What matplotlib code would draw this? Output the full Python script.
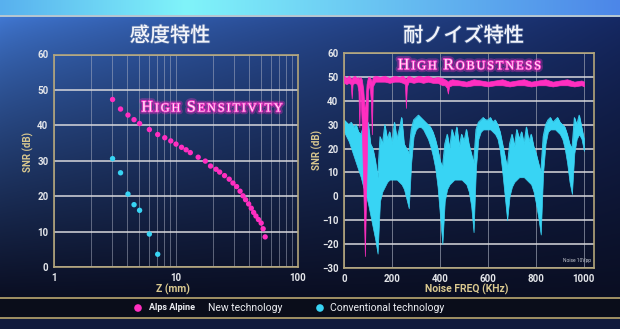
import numpy as np
import matplotlib
matplotlib.use("Agg")
import matplotlib.pyplot as plt
import matplotlib.patheffects as pe
from matplotlib.ticker import FixedLocator, NullFormatter

W, H = 620, 329

# left chart: SNR (dB) vs distance Z (mm), log x
z_new = [3.02, 3.51, 4.04, 4.53, 5.03, 6.05, 7.08, 8.09, 9.06, 10.0, 11.1, 12.1, 13.1,
         15.2, 17.4, 19.2, 21.3, 22.8, 25.0, 27.3, 29.3, 31.4, 33.5, 35.4, 37.2, 39.4,
         41.4, 43.3, 45.2, 47.4, 49.9, 51.8, 53.8]
snr_new = [47.3, 44.6, 42.9, 41.6, 40.5, 38.8, 37.4, 36.5, 35.6, 34.7, 33.8, 33.1, 32.3,
           31.0, 29.9, 28.5, 27.6, 26.8, 25.8, 24.8, 23.7, 22.7, 21.4, 20.1, 19.0, 17.8,
           16.6, 15.4, 14.4, 13.4, 12.4, 10.8, 8.5]
z_conv = [3.02, 3.51, 4.04, 4.53, 5.03, 6.05, 7.08]
snr_conv = [30.6, 26.6, 20.6, 17.6, 16.0, 9.3, 3.6]

# right chart: SNR (dB) vs noise frequency (kHz), read as upper / lower envelope
freq_conv = list(range(0, 1001, 10))
conv_top = [32, 31, 30, 31, 29, 30, 27, 26, 29, 24, 31, 22, 20, 15, 8,
            25, 22, 30, 24, 27, 22, 31, 24, 28, 33, 22, 20, 18,
            28, 32, 33, 34, 33, 32, 31, 30, 29, 27, 24, 20, 15, 12,
            22, 26, 20, 28, 24, 29, 21, 26, 23, 28, 22, 18, 14,
            28, 31, 32, 33, 32, 32, 33, 31, 32, 30, 27, 22, 17, 12,
            22, 26, 21, 28, 24, 27, 22, 29, 23, 26, 21, 18, 14, 10,
            25, 30, 32, 33, 31, 32, 33, 31, 30, 29, 26, 22, 20,
            33, 30, 34, 29, 24]
conv_bottom = [27, 25, 23, 20, 17, 14, 11, 8, 4, 1, -3, -8, -13, -18, -24,
               -2, 2, 4, 6, 7, 7, 7, 7, 6, 5, 3, -1, -5,
               14, 25, 28, 29, 29, 28, 26, 24, 21, 17, 12, 4, -8, -20,
               -2, 3, 5, 6, 7, 7, 7, 7, 6, 5, 2, -4, -15,
               12, 24, 27, 28, 28, 28, 28, 27, 26, 24, 19, 10, 0, -10,
               0, 4, 6, 7, 8, 8, 8, 7, 6, 5, 2, -3, -9, -16,
               10, 22, 27, 28, 28, 28, 27, 26, 24, 20, 14, 6, 1,
               18, 24, 26, 24, 19]

freq_new = [0, 10, 20, 28, 32, 36, 45, 55, 60, 64, 68, 74, 80, 87, 94, 100, 106, 112,
            116, 120, 130, 150, 170, 190, 210, 230, 245, 254, 258, 262, 270, 290, 310,
            330, 350, 370, 390, 410, 420, 428, 433, 438, 450, 480, 510, 540, 570, 600,
            630, 660, 690, 720, 750, 780, 810, 840, 870, 900, 930, 960, 990, 1000]
new_top = [50.5, 49.5, 50.5, 49.5, 49, 50, 50.5, 49.5, 50, 49, 50, 49, 45, 35, 47, 50, 50, 49,
           48, 50, 50.5, 50, 50.5, 49.5, 50.5, 50, 50.5, 49.5, 49, 50, 50.5, 49.5, 50.5,
           50, 50.5, 49.5, 50, 49.5, 49, 48.5, 48, 48.5, 49, 48.5, 48, 49, 48.5, 48,
           48.5, 49, 48, 48.5, 49, 48, 48.5, 49, 48, 48.5, 49, 48, 48.5, 48]
new_bottom = [47.5, 47, 47.5, 47, 41, 47, 47.5, 47, 44, 29, 45, 30, 5, -25, 10, 44, 47, 40,
              26, 46, 48, 48, 48, 47.5, 48, 48, 47.5, 47, 37, 46, 48, 47.5, 48,
              47.5, 48, 47.5, 47.5, 46.5, 46.5, 45.5, 43, 46, 46.5, 46.5, 46, 46.5, 46.5, 46,
              46.5, 46.5, 46, 46.5, 46.5, 46, 46.5, 46.5, 46, 46.5, 46.5, 46, 46.5, 46]

MAGENTA = "#ff2ec0"
CYAN = "#38d4f4"
GOLD = "#d9c88f"
FRAME = "#b3a57a"
TICK = "#e4e6ea"

plt.rcParams['font.family'] = ['Roboto', 'DejaVu Sans']


def fx(x):
    return x / W


def fy(y):
    return 1 - y / H


def background():
    yy, xx = np.mgrid[0:H, 0:W]
    u = xx / (W - 1)
    t = np.clip((yy - 16) / (297 - 16), 0, 1)
    top_l = np.array([0x42, 0x7a, 0xd6]) / 255
    top_r = np.array([0x16, 0x2a, 0x66]) / 255
    bottom = np.array([0x0a, 0x0e, 0x22]) / 255
    wx = (u ** 0.8)[..., None]
    top = top_l * (1 - wx) + top_r * wx
    tt = (t ** 0.75)[..., None]
    img = top * (1 - tt) + bottom * tt
    band = np.stack([np.interp(u[0], [0, 0.3, 1], c) for c in
                     ([0x58, 0x80, 0x4c], [0xb0, 0xf4, 0x86], [0xee, 0xfa, 0xe8])],
                    axis=-1) / 255
    img[:15] = band
    img[15:17] = np.array([0xb4, 0xc6, 0xd2]) / 255
    img[297:299] = np.array([0x9c, 0x8d, 0x62]) / 255
    img[299:317] = np.array([0x0a, 0x0d, 0x1a]) / 255
    img[317:319] = np.array([0x9c, 0x8d, 0x62]) / 255
    img[319:] = np.array([0x10, 0x1a, 0x3c]) / 255
    return img


def style(ax):
    ax.set_facecolor('none')
    ax.set_axisbelow(True)
    for s in ax.spines.values():
        s.set_color(FRAME)
        s.set_linewidth(1.2)
    ax.tick_params(which='both', length=0, colors=TICK, labelsize=7, pad=4)
    for lbl in ax.get_xticklabels() + ax.get_yticklabels():
        lbl.set_fontweight('bold')


def small_caps(fig, cx, base_y, text, big, small, color, glow, track=1.8):
    # first letter of each word large, the rest of the word smaller
    r = fig.canvas.get_renderer()
    glow_fx = [pe.Stroke(linewidth=4, foreground=glow, alpha=0.3),
               pe.Stroke(linewidth=1.3, foreground=glow, alpha=0.85),
               pe.Normal()]
    arts = []
    x = 0.0
    for word in text.split():
        for i, ch in enumerate(word):
            size = big if i == 0 else small
            t = fig.text(0, fy(base_y), ch, fontsize=size, color=color, va='baseline',
                         ha='left', family='Liberation Serif', path_effects=glow_fx)
            arts.append((t, x))
            x += t.get_window_extent(r).width + track
        x += big * 0.3 * 100 / 72
    total = x - big * 0.3 * 100 / 72 - track
    x0 = cx - total / 2
    for t, off in arts:
        t.set_x(fx(x0 + off))


fig = plt.figure(figsize=(W / 100, H / 100), dpi=100)

bg = fig.add_axes([0, 0, 1, 1])
bg.imshow(background(), extent=[0, W, H, 0], aspect='auto', interpolation='bilinear')
bg.set_xlim(0, W)
bg.set_ylim(H, 0)
bg.axis('off')

# ---- left chart ----
ax1 = fig.add_axes([fx(54), fy(267), 244 / W, 212.5 / H])
ax1.set_xscale('log')
ax1.set_xlim(1, 100)
ax1.set_ylim(0, 60)
ax1.xaxis.set_major_locator(FixedLocator([1, 10, 100]))
ax1.set_xticklabels(['1', '10', '100'])
ax1.xaxis.set_minor_locator(FixedLocator([2, 3, 4, 5, 6, 7, 8, 9, 20, 30, 40, 50, 60, 70, 80, 90]))
ax1.xaxis.set_minor_formatter(NullFormatter())
ax1.set_yticks(range(0, 61, 10))
ax1.grid(axis='y', color='#d8d8dc', lw=1.1)
ax1.grid(axis='x', which='both', color='#b8bccc', lw=0.6, alpha=0.55)
ax1.scatter(z_new, snr_new, s=15, color=MAGENTA, edgecolors='none', zorder=3)
ax1.scatter(z_conv, snr_conv, s=15, color=CYAN, edgecolors='none', zorder=3)
style(ax1)

# ---- right chart ----
ax2 = fig.add_axes([fx(344), fy(268), 250 / W, 215 / H])
ax2.set_xlim(0, 1042)
ax2.set_ylim(-30, 60)
ax2.set_xticks(range(0, 1001, 200))
ax2.set_yticks(range(-30, 61, 10))
ax2.grid(axis='y', color='#d8d8dc', lw=1.1)
ax2.grid(axis='x', color='#9aa0b0', lw=0.7, alpha=0.7)
ax2.fill_between(freq_conv, conv_bottom, conv_top, color=CYAN, lw=0.5, ec=CYAN, zorder=2)
ax2.plot(freq_conv, conv_top, color=CYAN, lw=0.6, zorder=2)
ax2.fill_between(freq_new, new_bottom, new_top, color=MAGENTA, lw=0.5, ec=MAGENTA, zorder=3)
ax2.text(1030, -27, 'Noise 10Vpp', fontsize=3.5, color='#c8ccd4', ha='right', va='center')
style(ax2)

# ---- titles and labels ----
for cx, s in [(170, '感度特性'), (463.5, '耐ノイズ特性')]:
    fig.text(fx(cx), fy(36), s, fontsize=14.5, color='#f2f4fa', ha='center', va='center',
             family=['Noto Sans CJK JP', 'DejaVu Sans'], fontweight='medium',
             path_effects=[pe.withStroke(linewidth=1.2, foreground='#6078a8', alpha=0.6)])

fig.text(fx(28), fy(152), 'SNR (dB)', rotation=90, fontsize=7, fontweight='bold',
         color=GOLD, ha='center', va='center')
fig.text(fx(317), fy(150), 'SNR (dB)', rotation=90, fontsize=7, fontweight='bold',
         color=GOLD, ha='center', va='center')
fig.text(fx(173), fy(289), 'Z (mm)', fontsize=7.5, fontweight='bold', color=GOLD,
         ha='center', va='center')
fig.text(fx(467), fy(289.5), 'Noise FREQ (KHz)', fontsize=7.5, fontweight='bold', color=GOLD,
         ha='center', va='center')

small_caps(fig, 212, 111.5, 'HIGH SENSITIVITY', 11.5, 8.9, '#ffe4f8', '#ff30c8')
small_caps(fig, 469.5, 69.3, 'HIGH ROBUSTNESS', 11.5, 8.9, '#ffe4f8', '#ff30c8')

# ---- legend bar ----
bg.scatter([138], [308], s=30, color=MAGENTA, edgecolors='none')
bg.scatter([320], [308], s=30, color=CYAN, edgecolors='none')
fig.text(fx(149), fy(308), 'Alps Alpine', fontsize=6.5, fontweight='bold', color='#eceef2',
         ha='left', va='center')
fig.text(fx(208), fy(308), 'New technology', fontsize=7.5, color='#eceef2', ha='left', va='center')
fig.text(fx(330), fy(308), 'Conventional technology', fontsize=7.5, color='#eceef2',
         ha='left', va='center')

fig.savefig('out.png', dpi=100)
